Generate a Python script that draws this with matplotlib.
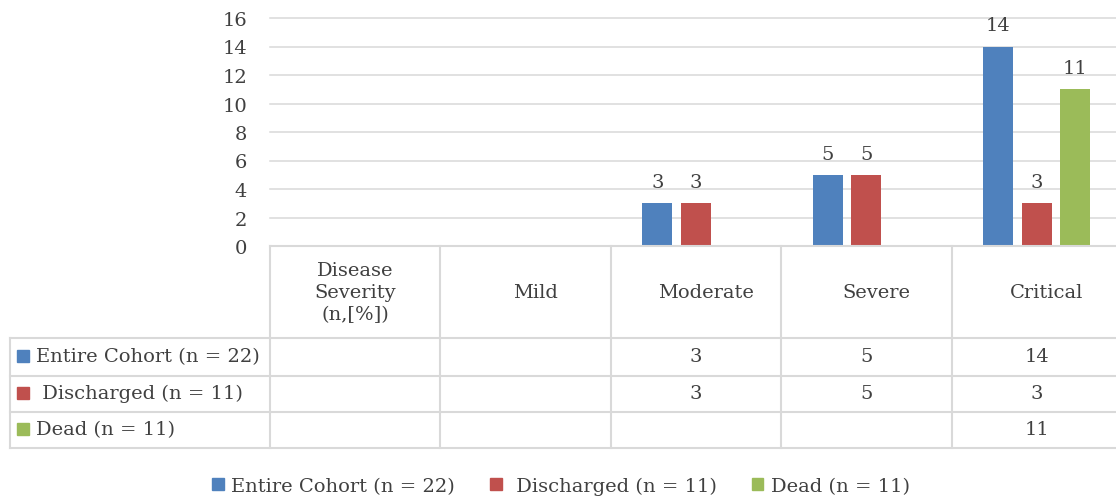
import numpy as np
import matplotlib.pyplot as plt
from matplotlib.patches import Patch, Rectangle
from matplotlib.transforms import blended_transform_factory

categories = ["Disease\nSeverity\n(n,[%])", "Mild", "Moderate", "Severe", "Critical"]
series_names = ["Entire Cohort (n = 22)", " Discharged (n = 11)", "Dead (n = 11)"]
entire = [np.nan, np.nan, 3, 5, 14]
discharged = [np.nan, np.nan, 3, 5, 3]
dead = [np.nan, np.nan, np.nan, np.nan, 11]
colors = ["#4F81BD", "#C0504D", "#9BBB59"]

txt = "#404040"
grid = "#d9d9d9"
fs = 14
plt.rcParams['font.family'] = ['DejaVu Serif']

W, H = 1116, 502
fig = plt.figure(figsize=(W / 100, H / 100), dpi=100)

def fx(px):
    return px / W

def fy(py):
    return 1 - py / H

# plot area: x 270..1122 px, y 19..247 px
ax = fig.add_axes([fx(270), fy(247), fx(1122) - fx(270), (247 - 19) / H])

x = np.arange(len(categories))
width = 0.176
step = 0.226
all_series = [entire, discharged, dead]
for i, (vals, c) in enumerate(zip(all_series, colors)):
    pos = x + (i - 1) * step
    ax.bar(pos, vals, width, color=c, zorder=3)
    for p, v in zip(pos, vals):
        if not np.isnan(v):
            ax.text(p, v + 0.85, f"{v:g}", ha="center", va="bottom",
                    fontsize=fs, color=txt)

ax.set_xlim(-0.5, len(categories) - 0.5)
ax.set_ylim(0, 16)
ax.set_yticks(range(0, 17, 2))
ax.yaxis.grid(True, color=grid, linewidth=1.1)
for gl in ax.get_ygridlines():
    gl.set_clip_on(False)
ax.set_axisbelow(True)
ax.tick_params(axis="y", length=0, pad=16.5, labelsize=fs, labelcolor=txt)
ax.set_xticks([])
for s in ax.spines.values():
    s.set_visible(False)

# data table under the plot
tr = blended_transform_factory(ax.transData, fig.transFigure)
row_lines = [339, 377, 413, 449]
lkw = dict(color=grid, linewidth=1.5, clip_on=False)
fig.add_artist(plt.Line2D([fx(270), 1], [fy(247), fy(247)], transform=fig.transFigure, **lkw))
for py in row_lines:
    fig.add_artist(plt.Line2D([fx(10), 1], [fy(py), fy(py)], transform=fig.transFigure, **lkw))
fig.add_artist(plt.Line2D([fx(10), fx(10)], [fy(339), fy(449)], transform=fig.transFigure, **lkw))
for b in np.arange(len(categories) + 1) - 0.5:
    ax.add_line(plt.Line2D([b, b], [fy(247), fy(449)], transform=tr, **lkw))

for xi, cat in zip(x, categories):
    shift = 0.06 if xi > 0 else 0
    ax.text(xi + shift, fy(293), cat, transform=tr, ha="center", va="center",
            fontsize=fs, color=txt, linespacing=1.3)

row_mid = [357, 394, 430]
for vals, name, c, py in zip(all_series, series_names, colors, row_mid):
    fig.add_artist(Rectangle((fx(17), fy(py) - 6 / H), 12 / W, 12 / H,
                             color=c, transform=fig.transFigure))
    fig.text(fx(36), fy(py), name, ha="left", va="center", fontsize=fs, color=txt)
    for xi, v in zip(x, vals):
        if not np.isnan(v):
            ax.text(xi, fy(py), f"{v:g}", transform=tr, ha="center",
                    va="center", fontsize=fs, color=txt)

handles = [Patch(color=c, label=n) for c, n in zip(colors, series_names)]
fig.legend(handles=handles, loc="center", bbox_to_anchor=(fx(561), fy(487)),
           ncol=3, frameon=False, fontsize=fs, labelcolor=txt,
           handlelength=0.6, handleheight=0.6, handletextpad=0.4,
           columnspacing=1.8)

fig.savefig("out.png", dpi=100)
